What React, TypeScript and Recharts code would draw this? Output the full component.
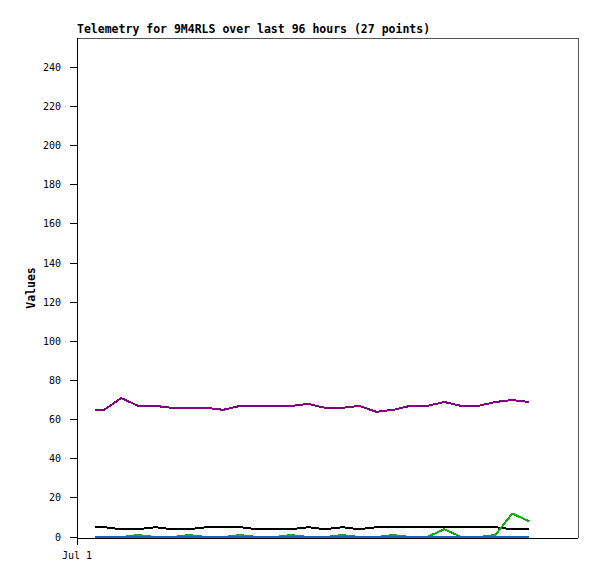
import { LineChart, Line, XAxis, YAxis, ReferenceLine } from 'recharts'

// hours since Jul 1 00:00
const hours = [
  3.2, 4.8, 7.8, 10.8, 13.8, 16.8, 19.8, 22.8, 25.8, 28.8, 31.8, 34.8, 37.8, 40.8,
  43.8, 46.8, 49.8, 52.8, 55.8, 58.8, 61.8, 64.8, 67.8, 70.8, 73.8, 76.8, 79.8,
]
const purpleValues = [
  65, 65, 71, 67, 67, 66, 66, 66, 65, 67, 67, 67, 67, 68, 66, 66, 67, 64, 65, 67, 67, 69, 67, 67, 69, 70, 69,
]
const blackValues = [
  5, 5, 4, 4, 5, 4, 4, 5, 5, 5, 4, 4, 4, 5, 4, 5, 4, 5, 5, 5, 5, 5, 5, 5, 5, 4, 4,
]
const greenValues = [
  0, 0, 0, 1, 0, 0, 1, 0, 0, 1, 0, 0, 1, 0, 0, 1, 0, 0, 1, 0, 0, 4, 0, 0, 1, 12, 8,
]
const blueValues = [
  0, 0, 0, 0, 0, 0, 0, 0, 0, 0, 0, 0, 0, 0, 0, 0, 0, 0, 0, 0, 0, 0, 0, 0, 0, 0, 0,
]
const yTicks = [0, 20, 40, 60, 80, 100, 120, 140, 160, 180, 200, 220, 240]
const xTicks = [0]
const xTickLabels = ['Jul 1']

const X_MAX = 88.4
const Y_MIN = -0.5
const Y_MAX = 255

const data = hours.map((h, i) => ({
  h,
  purple: purpleValues[i],
  black: blackValues[i],
  green: greenValues[i],
  blue: blueValues[i],
}))

const mono = '"DejaVu Sans Mono", "Liberation Mono", monospace'
const tickStyle = { fill: '#000', fontSize: 10, fontFamily: mono }

export default function App() {
  return (
    <div
      style={{
        position: 'absolute',
        left: 0,
        top: 0,
        width: 597,
        height: 579,
        background: '#fff',
        shapeRendering: 'crispEdges',
      }}
    >
      <div
        style={{
          position: 'absolute',
          left: 77,
          top: 22,
          fontFamily: mono,
          fontWeight: 'bold',
          fontSize: 11.5,
          lineHeight: '14px',
          whiteSpace: 'nowrap',
        }}
      >
        Telemetry for 9M4RLS over last 96 hours (27 points)
      </div>
      <LineChart width={597} height={579} data={data} margin={{ top: 38, right: 19, bottom: 10, left: 0 }}>
        <XAxis
          dataKey="h"
          type="number"
          domain={[0, X_MAX]}
          ticks={xTicks}
          tickFormatter={(v, i) => xTickLabels[i] ?? String(v)}
          axisLine={{ stroke: '#000' }}
          tickLine={{ stroke: '#000' }}
          tickSize={7}
          tickMargin={7}
          tick={tickStyle}
          height={31}
          allowDataOverflow
        />
        <YAxis
          type="number"
          domain={[Y_MIN, Y_MAX]}
          ticks={yTicks}
          axisLine={{ stroke: '#000' }}
          tickLine={{ stroke: '#000' }}
          tickSize={7}
          tickMargin={9}
          tick={tickStyle}
          width={77}
          allowDataOverflow
          label={{
            value: 'Values',
            content: ({ viewBox }: any) => {
              const cx = viewBox.x + 35
              const cy = viewBox.y + viewBox.height / 2
              return (
                <text
                  x={cx}
                  y={cy}
                  transform={`rotate(-90 ${cx} ${cy})`}
                  textAnchor="middle"
                  fontFamily={mono}
                  fontWeight="bold"
                  fontSize={11.5}
                  fill="#000"
                >
                  Values
                </text>
              )
            },
          }}
        />
        <ReferenceLine y={Y_MAX} stroke="#555" strokeWidth={1} />
        <ReferenceLine x={X_MAX} stroke="#555" strokeWidth={1} />
        <Line dataKey="purple" stroke="#800080" strokeWidth={2} dot={false} isAnimationActive={false} />
        <Line dataKey="black" stroke="#000000" strokeWidth={2} dot={false} isAnimationActive={false} />
        <Line dataKey="green" stroke="#00b000" strokeWidth={2} dot={false} isAnimationActive={false} />
        <Line dataKey="blue" stroke="#0066cc" strokeWidth={2} dot={false} isAnimationActive={false} />
      </LineChart>
    </div>
  )
}
